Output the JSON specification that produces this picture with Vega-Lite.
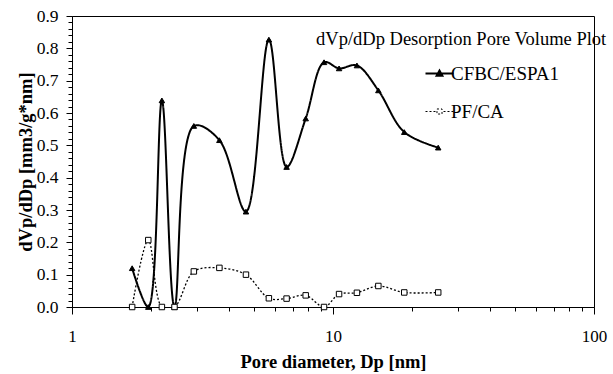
{
  "$schema": "https://vega.github.io/schema/vega-lite/v6.json",
  "autosize": {"type": "none"},
  "padding": {"left": 72, "top": 16, "right": 19, "bottom": 67},
  "width": 522,
  "height": 291,
  "background": "white",
  "config": {
    "view": {"stroke": "black", "strokeWidth": 1},
    "font": "Liberation Serif",
    "axis": {"labelFont": "Liberation Serif", "titleFont": "Liberation Serif"},
    "legend": {"labelFont": "Liberation Serif"}
  },
  "data": {
    "values": [
      {"Dp": 1.70, "dV": 0.12, "series": "CFBC/ESPA1"},
      {"Dp": 1.96, "dV": 0.0, "series": "CFBC/ESPA1"},
      {"Dp": 2.21, "dV": 0.639, "series": "CFBC/ESPA1"},
      {"Dp": 2.47, "dV": 0.0, "series": "CFBC/ESPA1"},
      {"Dp": 2.93, "dV": 0.56, "series": "CFBC/ESPA1"},
      {"Dp": 3.67, "dV": 0.516, "series": "CFBC/ESPA1"},
      {"Dp": 4.64, "dV": 0.295, "series": "CFBC/ESPA1"},
      {"Dp": 5.68, "dV": 0.827, "series": "CFBC/ESPA1"},
      {"Dp": 6.64, "dV": 0.433, "series": "CFBC/ESPA1"},
      {"Dp": 7.86, "dV": 0.583, "series": "CFBC/ESPA1"},
      {"Dp": 9.24, "dV": 0.757, "series": "CFBC/ESPA1"},
      {"Dp": 10.55, "dV": 0.738, "series": "CFBC/ESPA1"},
      {"Dp": 12.35, "dV": 0.747, "series": "CFBC/ESPA1"},
      {"Dp": 14.92, "dV": 0.670, "series": "CFBC/ESPA1"},
      {"Dp": 18.75, "dV": 0.541, "series": "CFBC/ESPA1"},
      {"Dp": 25.3, "dV": 0.493, "series": "CFBC/ESPA1"},
      {"Dp": 1.70, "dV": 0.0, "series": "PF/CA"},
      {"Dp": 1.96, "dV": 0.207, "series": "PF/CA"},
      {"Dp": 2.21, "dV": 0.0, "series": "PF/CA"},
      {"Dp": 2.47, "dV": 0.0, "series": "PF/CA"},
      {"Dp": 2.93, "dV": 0.110, "series": "PF/CA"},
      {"Dp": 3.67, "dV": 0.121, "series": "PF/CA"},
      {"Dp": 4.64, "dV": 0.100, "series": "PF/CA"},
      {"Dp": 5.68, "dV": 0.027, "series": "PF/CA"},
      {"Dp": 6.64, "dV": 0.026, "series": "PF/CA"},
      {"Dp": 7.86, "dV": 0.036, "series": "PF/CA"},
      {"Dp": 9.24, "dV": 0.0, "series": "PF/CA"},
      {"Dp": 10.55, "dV": 0.040, "series": "PF/CA"},
      {"Dp": 12.35, "dV": 0.044, "series": "PF/CA"},
      {"Dp": 14.92, "dV": 0.065, "series": "PF/CA"},
      {"Dp": 18.75, "dV": 0.045, "series": "PF/CA"},
      {"Dp": 25.3, "dV": 0.045, "series": "PF/CA"}
    ]
  },
  "encoding": {
    "x": {
      "field": "Dp",
      "type": "quantitative",
      "scale": {"type": "log", "domain": [1, 100], "nice": false},
      "axis": {
        "title": "Pore diameter, Dp [nm]",
        "titleFont": "Liberation Serif",
        "titleFontSize": 18.5,
        "titleFontWeight": "bold",
        "titleColor": "black",
        "titlePadding": 8,
        "values": [1, 2, 3, 4, 5, 6, 7, 8, 9, 10, 20, 30, 40, 50, 60, 70, 80, 90, 100],
        "labelExpr": "datum.value == 1 || datum.value == 10 || datum.value == 100 ? toString(datum.value) : ''",
        "labelFont": "Liberation Serif",
        "labelFontSize": 17,
        "labelColor": "black",
        "labelPadding": 14,
        "labelFlush": false,
        "labelOverlap": false,
        "grid": false,
        "domainColor": "black",
        "tickColor": "black",
        "tickSize": {"condition": {"test": "datum.value == 1 || datum.value == 10 || datum.value == 100", "value": 7}, "value": 4}
      }
    },
    "y": {
      "field": "dV",
      "type": "quantitative",
      "scale": {"domain": [0, 0.9], "nice": false},
      "axis": {
        "title": "dVp/dDp [mm3/g*nm]",
        "titleFont": "Liberation Serif",
        "titleFontSize": 18.5,
        "titleFontWeight": "bold",
        "titleColor": "black",
        "titlePadding": 1,
        "values": [0, 0.02, 0.04, 0.06, 0.08, 0.1, 0.12, 0.14, 0.16, 0.18, 0.2, 0.22, 0.24, 0.26, 0.28, 0.3, 0.32, 0.34, 0.36, 0.38, 0.4, 0.42, 0.44, 0.46, 0.48, 0.5, 0.52, 0.54, 0.56, 0.58, 0.6, 0.62, 0.64, 0.66, 0.68, 0.7, 0.72, 0.74, 0.76, 0.78, 0.8, 0.82, 0.84, 0.86, 0.88, 0.9],
        "labelExpr": "abs(datum.value * 10 - round(datum.value * 10)) < 0.001 ? format(datum.value, '.1f') : ''",
        "labelFont": "Liberation Serif",
        "labelFontSize": 17.5,
        "labelColor": "black",
        "labelPadding": 8,
        "labelOverlap": false,
        "labelFlush": false,
        "grid": false,
        "domainColor": "black",
        "tickColor": "black",
        "tickSize": {"condition": {"test": "abs(datum.value * 10 - round(datum.value * 10)) < 0.001", "value": 6}, "value": 4}
      }
    }
  },
  "layer": [
    {
      "mark": {"type": "line", "interpolate": "catmull-rom", "color": "black", "clip": true},
      "encoding": {
        "strokeDash": {
          "field": "series",
          "type": "nominal",
          "scale": {"domain": ["CFBC/ESPA1", "PF/CA"], "range": [[1, 0], [2, 2]]},
          "legend": {
            "orient": "none",
            "legendX": 358,
            "legendY": 48,
            "title": null,
            "symbolType": "stroke",
            "symbolSize": 784,
            "symbolStrokeWidth": 1.6,
            "symbolStrokeColor": "black",
            "labelFont": "Liberation Serif",
            "labelFontSize": 19,
            "labelColor": "black",
            "labelOffset": 2,
            "rowPadding": 18,
            "encode": {
              "symbols": {
                "update": {
                  "shape": {"signal": "datum.value === 'CFBC/ESPA1' ? 'M-1,0H1M0,-0.22L0.22,0.17L-0.22,0.17Z' : 'M-1,0H-0.857M-0.714,0H-0.571M-0.429,0H-0.286M0.286,0H0.429M0.571,0H0.714M0.857,0H1M-0.18,-0.18H0.18V0.18H-0.18Z'"},
                  "fill": {"signal": "datum.value === 'CFBC/ESPA1' ? 'black' : 'white'"},
                  "fillOpacity": {"value": 1},
                  "stroke": {"value": "black"},
                  "strokeDash": {"value": [1, 0]},
                  "strokeWidth": {"signal": "datum.value === 'CFBC/ESPA1' ? 1.8 : 1"}
                }
              }
            }
          }
        },
        "strokeWidth": {
          "field": "series",
          "type": "nominal",
          "scale": {"range": [2, 1.3]},
          "legend": null
        }
      }
    },
    {
      "mark": {"type": "point", "filled": true, "stroke": "black", "strokeWidth": 1, "opacity": 1},
      "encoding": {
        "shape": {
          "field": "series",
          "type": "nominal",
          "scale": {"range": ["triangle-up", "square"]},
          "legend": null
        },
        "fill": {
          "field": "series",
          "type": "nominal",
          "scale": {"range": ["black", "white"]},
          "legend": null
        },
        "size": {"value": 30}
      }
    },
    {
      "transform": [{"filter": "datum.series == 'PF/CA' && datum.Dp == 25.3"}],
      "mark": {"type": "text", "align": "left", "baseline": "alphabetic", "font": "Liberation Serif", "fontSize": 18.5, "color": "black"},
      "encoding": {
        "x": {"datum": 8.61},
        "y": {"datum": 0.81},
        "text": {"value": "dVp/dDp Desorption Pore Volume Plot"}
      }
    }
  ]
}
